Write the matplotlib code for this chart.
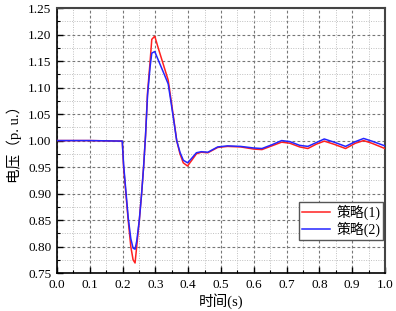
import matplotlib
matplotlib.use("Agg")
import matplotlib.pyplot as plt
from matplotlib.ticker import MultipleLocator, FormatStrFormatter

plt.rcParams['font.family'] = ['Liberation Serif', 'Noto Sans CJK SC', 'DejaVu Sans']

# time axis (s)
t = [0, 0.1, 0.199, 0.203, 0.21, 0.217, 0.225, 0.232, 0.238, 0.243, 0.251, 0.258,
     0.264, 0.27, 0.276, 0.284, 0.289, 0.298, 0.31, 0.325, 0.339, 0.347, 0.355,
     0.365, 0.375, 0.385, 0.398, 0.41, 0.425, 0.44, 0.46, 0.475, 0.49, 0.52, 0.56,
     0.6, 0.625, 0.655, 0.685, 0.71, 0.74, 0.765, 0.79, 0.815, 0.845, 0.88, 0.91,
     0.935, 0.96, 1.0]

# 策略(1)
v1 = [1.0, 1.0, 0.999, 0.95, 0.90, 0.85, 0.80, 0.775, 0.769, 0.80, 0.85, 0.90,
      0.95, 1.01, 1.09, 1.15, 1.191, 1.197, 1.172, 1.142, 1.114, 1.08, 1.045,
      1.0, 0.975, 0.958, 0.952, 0.962, 0.975, 0.978, 0.977, 0.982, 0.987, 0.989, 0.988,
      0.984, 0.983, 0.99, 0.997, 0.995, 0.988, 0.985, 0.993, 0.999, 0.993, 0.985, 0.995,
      1.0, 0.995, 0.985]

# 策略(2)
v2 = [1.0, 1.0, 0.999, 0.955, 0.905, 0.855, 0.815, 0.797, 0.795, 0.81, 0.85, 0.90,
      0.95, 1.01, 1.085, 1.14, 1.165, 1.168, 1.15, 1.128, 1.107, 1.075, 1.042,
      1.0, 0.978, 0.963, 0.958, 0.966, 0.977, 0.979, 0.978, 0.983, 0.988, 0.99, 0.989,
      0.986, 0.985, 0.992, 1.0, 0.998, 0.991, 0.989, 0.996, 1.003, 0.997, 0.989, 0.998,
      1.004, 0.999, 0.99]

fig = plt.figure(figsize=(3.96, 3.11), dpi=100)
ax = fig.add_axes([0.144, 0.122, 0.828, 0.852])

ax.plot(t, v1, color='#ff2020', lw=1.1, label='策略(1)', zorder=3)
ax.plot(t, v2, color='#2525ff', lw=1.1, label='策略(2)', zorder=4)

ax.set_xlim(0, 1.0)
ax.set_ylim(0.75, 1.25)
ax.xaxis.set_major_locator(MultipleLocator(0.1))
ax.xaxis.set_minor_locator(MultipleLocator(0.05))
ax.yaxis.set_major_locator(MultipleLocator(0.05))
ax.yaxis.set_minor_locator(MultipleLocator(0.025))
ax.xaxis.set_major_formatter(FormatStrFormatter('%.1f'))
ax.yaxis.set_major_formatter(FormatStrFormatter('%.2f'))

ax.grid(which='major', color='#777777', linestyle=(0, (2.5, 2)), lw=0.8)
ax.grid(which='minor', color='#c0c0c0', linestyle=(0, (1, 1.5)), lw=0.7)

ax.tick_params(which='both', direction='in', top=False, right=False, labelsize=9.5)
ax.tick_params(which='major', length=4, width=1, pad=4)
ax.tick_params(which='minor', length=2, width=0.8)

for side in ['left', 'bottom']:
    ax.spines[side].set_color('black')
    ax.spines[side].set_linewidth(1.2)
for side in ['top', 'right']:
    ax.spines[side].set_color('#444444')
    ax.spines[side].set_linewidth(1.5)

ax.set_xlabel('时间(s)', fontsize=10.5, labelpad=2)
ax.set_ylabel('电压（p. u.）', fontsize=10.5, labelpad=4)

leg = ax.legend(loc='lower right', bbox_to_anchor=(0.995, 0.125), borderaxespad=0,
                fancybox=False, edgecolor='#555555', fontsize=10, handlelength=2.0,
                borderpad=0.2, labelspacing=0.1, handletextpad=0.5, framealpha=1)
leg.get_frame().set_linewidth(1.0)

fig.savefig('out.png', dpi=100)
